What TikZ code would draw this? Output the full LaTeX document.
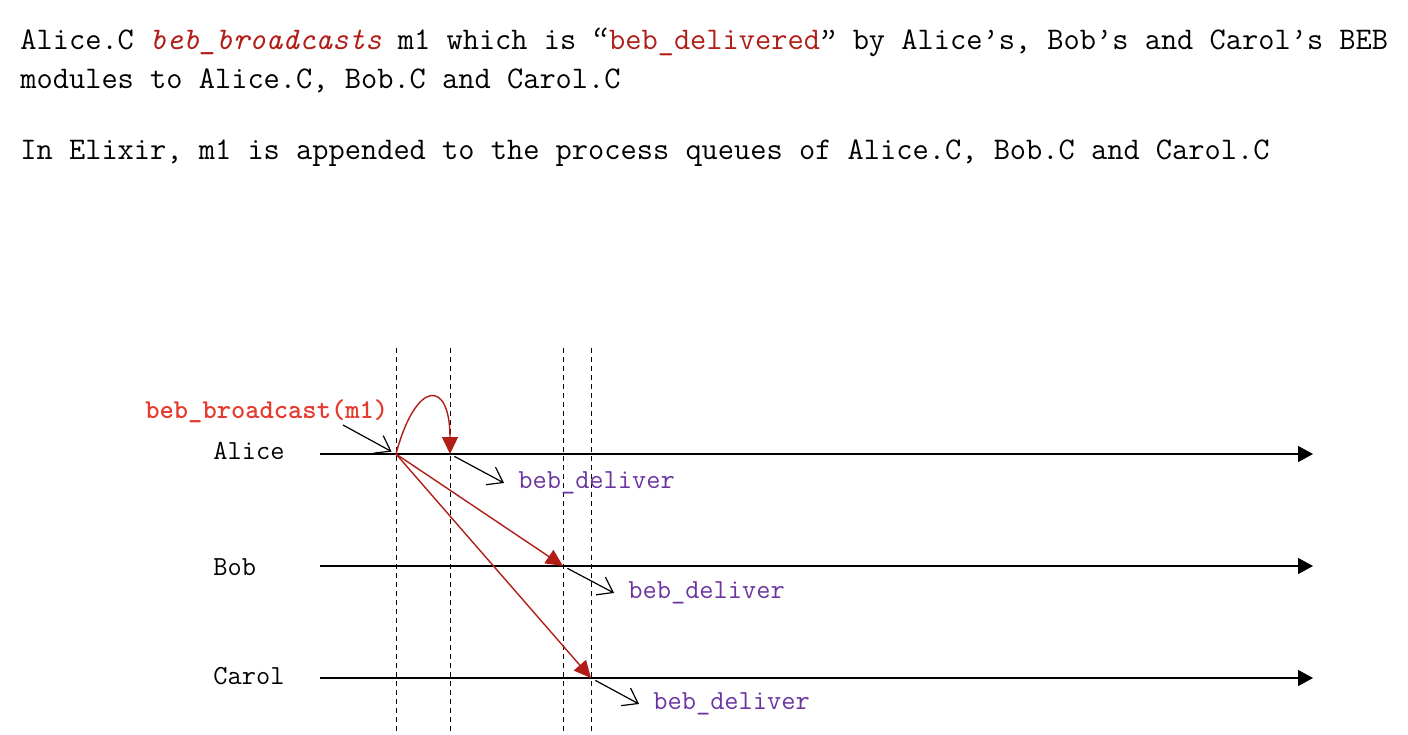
\documentclass[tikz,border=0pt]{standalone}
\usepackage{tikz}
\usetikzlibrary{arrows.meta,positioning}
\definecolor{msgred}{HTML}{B01E17}
\definecolor{callred}{HTML}{E53A2E}
\definecolor{deliv}{HTML}{6B35A0}
% typewriter quotes, one character wide
\newcommand\ttlq{\makebox[.525em][c]{‘\kern-.3em‘}}
\newcommand\ttrq{\makebox[.525em][c]{’\kern-.3em’}}

\begin{document}
\begin{tikzpicture}[x=0.5pt,y=-0.5pt,
 head/.style={anchor=base west,inner sep=0pt,font=\fontsize{15.75}{19}\selectfont\ttfamily},
 who/.style={anchor=base west,inner sep=0pt,font=\fontsize{13.8}{16}\selectfont\ttfamily},
 call/.style={who,text=callred,font=\fontsize{13.6}{16}\selectfont\ttfamily\bfseries},
 evt/.style={anchor=west,inner sep=0pt,text=deliv,font=\fontsize{13.8}{16}\selectfont\ttfamily},
 life/.style={-{Triangle[length=7.5pt,width=8pt]},line width=.7pt},
 guide/.style={line width=.4pt,dash pattern=on 2.5pt off 2pt},
 msg/.style={-{Triangle[length=8.5pt,width=8pt]},line width=.7pt,draw=msgred},
 note/.style={-{Straight Barb[length=7pt,width=10pt]},line width=.6pt},
 node distance=7pt]
 \useasboundingbox (0,0) rectangle (1408,734);
 % slide text
 \node[head] (intro1) at (20,49) {Alice.C \textcolor{msgred}{\textit{beb\_broadcasts}} m1 which is \ttlq\textcolor{msgred}{beb\_delivered}\ttrq{} by Alice’s, Bob’s and Carol’s BEB};
 \node[head] (intro2) at (20,88) {modules to Alice.C, Bob.C and Carol.C};
 \node[head] (elixir) at (20,159) {In Elixir, m1 is appended to the process queues of Alice.C, Bob.C and Carol.C};
 % processes
 \node[who] (alice) at (213,459) {Alice};
 \node[who] (bob) at (213,575) {Bob};
 \node[who] (carol) at (213,684) {Carol};
 \coordinate (a0) at (320,454); \coordinate (a1) at (1313,454);
 \coordinate (b0) at (320,566); \coordinate (b1) at (1313,566);
 \coordinate (c0) at (320,678); \coordinate (c1) at (1313,678);
 \draw[life] (a0) -- (a1); \draw[life] (b0) -- (b1); \draw[life] (c0) -- (c1);
 % events
 \coordinate (aS) at (396,454); \coordinate (aD) at (450,454);
 \coordinate (bD) at (563,566); \coordinate (cD) at (591,678);
 \coordinate (top) at (0,348); \coordinate (bot) at (0,734);
 \draw[guide] (aS |- top) -- (aS |- bot); \draw[guide] (aD |- top) -- (aD |- bot);
 \draw[guide] (bD |- top) -- (bD |- bot); \draw[guide] (cD |- top) -- (cD |- bot);
 % broadcast
 \node[call] (bcast) at (145,418) {beb\_broadcast(m1)};
 \coordinate (bcastT) at (343,425);
 \draw[note,shorten >=2.5pt] (bcastT) -- (aS);
 \draw[msg] (aS) .. controls +(20,-75) and +(0,-75) .. (aD);
 \draw[msg] (aS) -- (bD); \draw[msg] (aS) -- (cD);
 % deliveries
 \coordinate (aDe) at (504,483); \coordinate (bDe) at (614,593); \coordinate (cDe) at (639,704);
 \draw[note,shorten <=2.5pt] (aD) -- (aDe); \draw[note,shorten <=2.5pt] (bD) -- (bDe);
 \draw[note,shorten <=2.5pt] (cD) -- (cDe);
 \node[evt,right=of aDe] (aLbl) {beb\_deliver};
 \node[evt,right=of bDe] (bLbl) {beb\_deliver};
 \node[evt,right=of cDe] (cLbl) {beb\_deliver};
\end{tikzpicture}
\end{document}
